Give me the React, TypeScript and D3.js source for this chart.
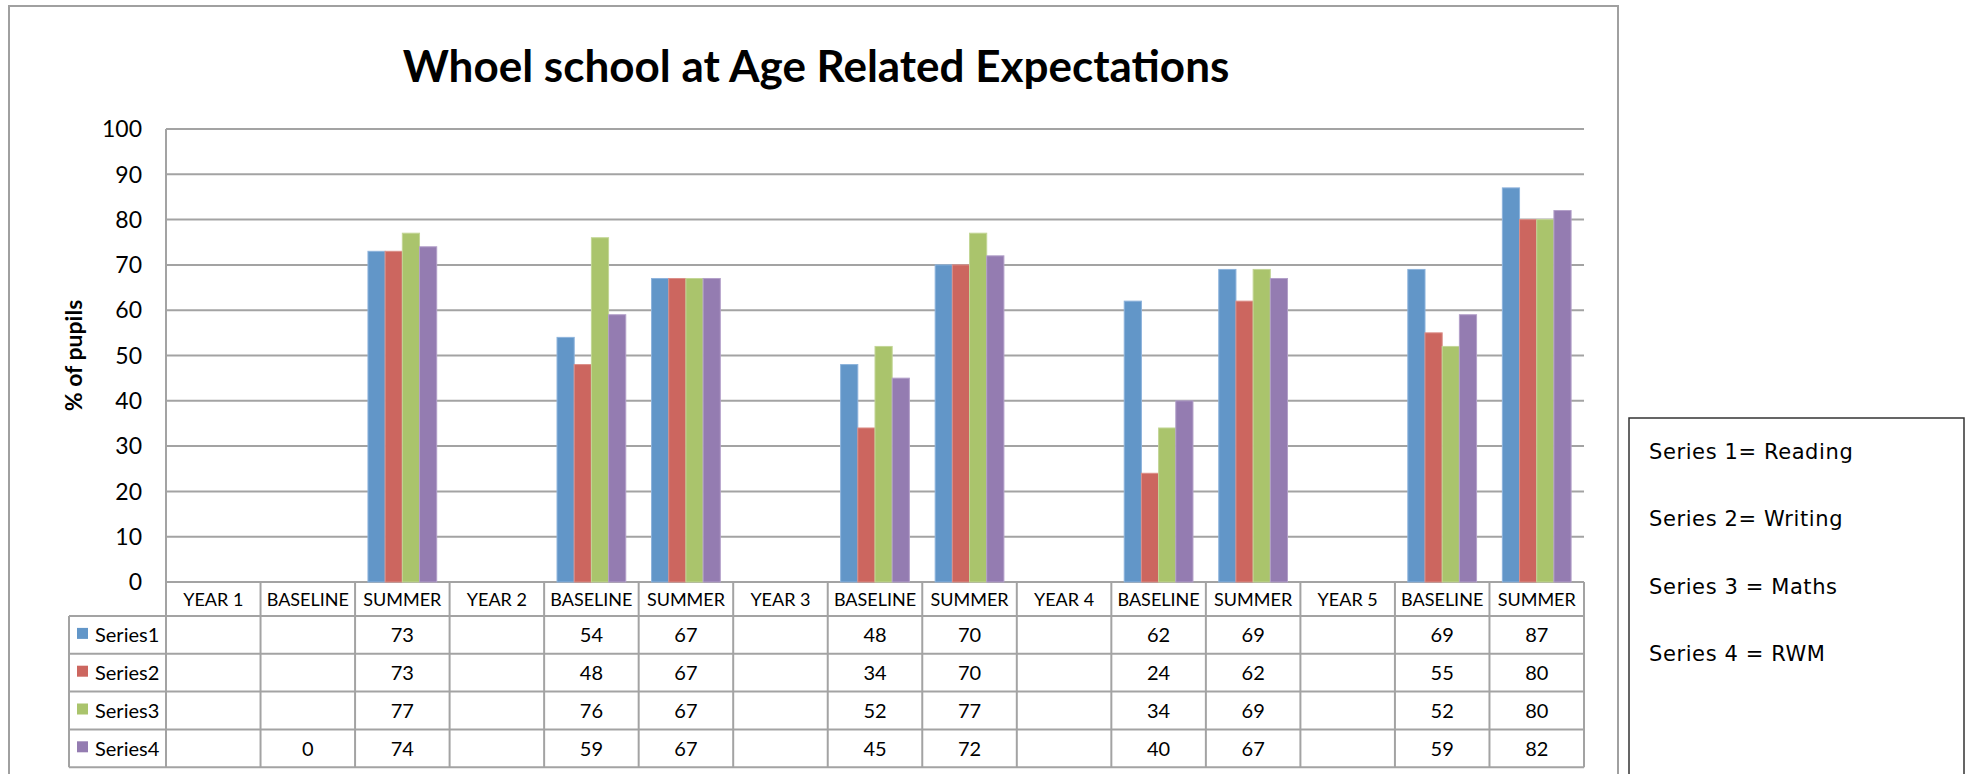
import React, { useEffect } from 'react';
import * as d3 from 'd3';

const categories = [
  'YEAR 1', 'BASELINE', 'SUMMER',
  'YEAR 2', 'BASELINE', 'SUMMER',
  'YEAR 3', 'BASELINE', 'SUMMER',
  'YEAR 4', 'BASELINE', 'SUMMER',
  'YEAR 5', 'BASELINE', 'SUMMER',
];
const seriesNames = ['Series1', 'Series2', 'Series3', 'Series4'];
const series1 = [null, null, 73, null, 54, 67, null, 48, 70, null, 62, 69, null, 69, 87];
const series2 = [null, null, 73, null, 48, 67, null, 34, 70, null, 24, 62, null, 55, 80];
const series3 = [null, null, 77, null, 76, 67, null, 52, 77, null, 34, 69, null, 52, 80];
const series4 = [null, 0, 74, null, 59, 67, null, 45, 72, null, 40, 67, null, 59, 82];
const yTicks = [0, 10, 20, 30, 40, 50, 60, 70, 80, 90, 100];
const notes = ['Series 1= Reading', 'Series 2= Writing', 'Series 3 = Maths', 'Series 4 = RWM'];

const allSeries = [series1, series2, series3, series4];
const colors = ['#6296C8', '#CC665F', '#AAC46C', '#947CB1'];
const strokes = ['#8DB3DC', '#DB8E88', '#C3D696', '#B3A0C9'];

const W = 1974;
const H = 774;
const font = 'Lato, "Open Sans", sans-serif';
const gridColor = '#A3A3A3';

const App: React.FC = () => {
  useEffect(() => {
    document.body.style.margin = '0';
  }, []);

  const plotLeft = 166;
  const plotRight = 1584;
  const tableLeft = 69;
  const headerBottom = 616;
  const rowH = 37.8;

  const x = d3
    .scaleBand<number>()
    .domain(d3.range(categories.length))
    .range([plotLeft, plotRight])
    .paddingInner(0)
    .paddingOuter(0);

  // 4 bars per category, Excel-style gap width of 150%
  const xs = d3
    .scaleBand<number>()
    .domain(d3.range(seriesNames.length))
    .range([0, x.bandwidth()])
    .paddingInner(0)
    .paddingOuter(0.75);

  const y = d3.scaleLinear().domain([0, 100]).range([582, 129]);

  const rowTop = (i: number) => headerBottom + i * rowH;
  const tableBottom = rowTop(seriesNames.length);

  return (
    <svg width={W} height={H} style={{ display: 'block', background: '#fff' }}>
      {/* chart frame */}
      <rect x={9} y={6} width={1609} height={800} fill="#fff" stroke="#A0A0A0" strokeWidth={2} />

      {/* title */}
      <text
        x={816}
        y={82}
        textAnchor="middle"
        fontFamily={font}
        fontWeight="bold"
        fontSize={44}
        fill="#000"
      >
        Whoel school at Age Related Expectations
      </text>

      {/* gridlines */}
      {yTicks.map((t) => (
        <line
          key={'g' + t}
          x1={plotLeft}
          x2={plotRight}
          y1={y(t)}
          y2={y(t)}
          stroke={gridColor}
          strokeWidth={2}
        />
      ))}
      <line x1={plotLeft} x2={plotLeft} y1={y(100)} y2={y(0)} stroke={gridColor} strokeWidth={2} />

      {/* y tick labels */}
      {yTicks.map((t) => (
        <text
          key={'t' + t}
          x={142}
          y={y(t)}
          dy="0.36em"
          textAnchor="end"
          fontFamily={font}
          fontSize={23}
          fill="#000"
        >
          {t}
        </text>
      ))}

      {/* y axis title */}
      <text
        transform={`translate(74,${(y(0) + y(100)) / 2}) rotate(-90)`}
        textAnchor="middle"
        dy="0.36em"
        fontFamily={font}
        fontWeight="bold"
        fontSize={23}
        fill="#000"
      >
        % of pupils
      </text>

      {/* bars */}
      {allSeries.map((vals, s) =>
        vals.map((v, i) =>
          v === null ? null : (
            <rect
              key={`b${s}-${i}`}
              x={(x(i) as number) + (xs(s) as number)}
              y={y(v)}
              width={xs.bandwidth()}
              height={y(0) - y(v)}
              fill={colors[s]}
              stroke={v > 0 ? strokes[s] : 'none'}
              strokeWidth={1}
            />
          )
        )
      )}

      {/* data table */}
      <g stroke={gridColor} strokeWidth={2}>
        {d3.range(categories.length + 1).map((i) => {
          const xx = i < categories.length ? (x(i) as number) : plotRight;
          return <line key={'v' + i} x1={xx} x2={xx} y1={y(0)} y2={tableBottom} />;
        })}
        <line x1={tableLeft} x2={tableLeft} y1={headerBottom} y2={tableBottom} />
        {d3.range(seriesNames.length + 1).map((r) => (
          <line key={'h' + r} x1={tableLeft} x2={plotRight} y1={rowTop(r)} y2={rowTop(r)} />
        ))}
      </g>

      {categories.map((c, i) => (
        <text
          key={'c' + i}
          x={(x(i) as number) + x.bandwidth() / 2}
          y={(y(0) + headerBottom) / 2 + 1}
          dy="0.36em"
          textAnchor="middle"
          fontFamily={font}
          fontSize={18}
          fill="#000"
        >
          {c}
        </text>
      ))}

      {seriesNames.map((name, s) => (
        <g key={'r' + s}>
          <rect x={77} y={rowTop(s) + rowH / 2 - 7} width={11} height={11} fill={colors[s]} />
          <text
            x={95}
            y={rowTop(s) + rowH / 2}
            dy="0.36em"
            fontFamily={font}
            fontSize={20}
            fill="#000"
          >
            {name}
          </text>
          {allSeries[s].map((v, i) =>
            v === null ? null : (
              <text
                key={`v${s}-${i}`}
                x={(x(i) as number) + x.bandwidth() / 2}
                y={rowTop(s) + rowH / 2}
                dy="0.36em"
                textAnchor="middle"
                fontFamily={font}
                fontSize={20}
                fill="#000"
              >
                {v}
              </text>
            )
          )}
        </g>
      ))}

      {/* notes box */}
      <rect x={1629} y={418} width={335} height={400} fill="#fff" stroke="#333" strokeWidth={1.5} />
      {notes.map((n, i) => (
        <text
          key={'n' + i}
          x={1649}
          y={459 + i * 67.3}
          fontFamily='"DejaVu Sans", sans-serif'
          fontSize={21}
          letterSpacing={0.6}
          fill="#000"
        >
          {n}
        </text>
      ))}
    </svg>
  );
};

export default App;
